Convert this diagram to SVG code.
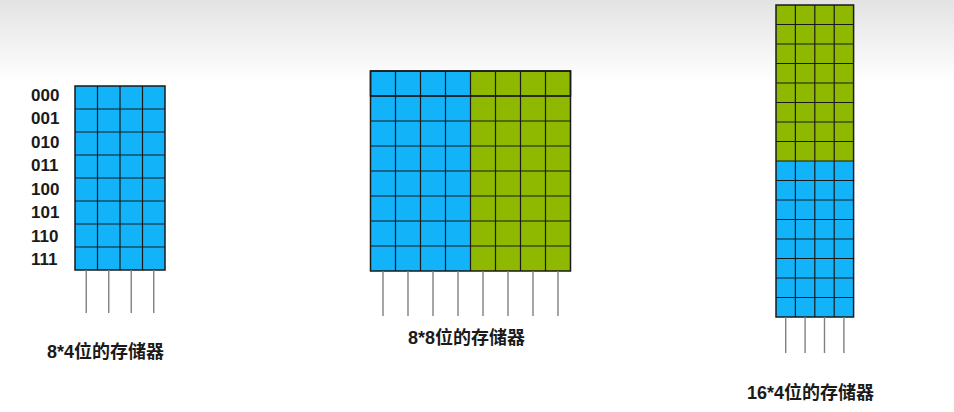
<svg xmlns="http://www.w3.org/2000/svg" width="954" height="412" viewBox="0 0 954 412">
<defs>
<linearGradient id="bg" x1="0" y1="0" x2="0" y2="1">
<stop offset="0" stop-color="#e3e3e3"/>
<stop offset="0.2" stop-color="#ffffff"/>
<stop offset="1" stop-color="#ffffff"/>
</linearGradient>
</defs>
<style>
.blue{fill:#12b3f8}
.green{fill:#8fb800}
.frame{fill:none;stroke:#1a1a1a;stroke-width:1.5}
.grid{fill:none;stroke:#1a1a1a;stroke-width:1.2}
.pin{stroke:#808080;stroke-width:1.4;fill:none}
.addr{font-family:"Liberation Sans","Noto Sans CJK SC",sans-serif;font-weight:bold;font-size:17px;fill:#1a1a1a}
.cap{font-family:"Liberation Sans","Noto Sans CJK SC",sans-serif;font-weight:bold;font-size:18px;fill:#1a1a1a}
</style>
<rect x="0" y="0" width="954" height="412" fill="url(#bg)"/>

<g id="mem8x4">
<rect class="blue" x="75" y="86" width="90" height="184"/>
<path class="grid" d="M97.5 86V270M120 86V270M142.5 86V270M75 109H165M75 132H165M75 155H165M75 178H165M75 201H165M75 224H165M75 247H165"/>
<rect class="frame" x="75" y="86" width="90" height="184"/>
<g class="addr">
<text x="31" y="100.5">000</text>
<text x="31" y="124">001</text>
<text x="31" y="147.5">010</text>
<text x="31" y="171">011</text>
<text x="31" y="194.5">100</text>
<text x="31" y="218">101</text>
<text x="31" y="241.5">110</text>
<text x="31" y="265">111</text>
</g>
<text class="cap" x="47" y="358">8*4位的存储器</text>
</g>

<g id="mem8x8">
<rect class="blue" x="370.5" y="71" width="100" height="200"/>
<rect class="green" x="470.5" y="71" width="100" height="200"/>
<path class="grid" d="M395.5 71V271M420.5 71V271M445.5 71V271M470.5 71V271M495.5 71V271M520.5 71V271M545.5 71V271M370.5 96H570.5M370.5 121H570.5M370.5 146H570.5M370.5 171H570.5M370.5 196H570.5M370.5 221H570.5M370.5 246H570.5"/>
<rect class="frame" x="370.5" y="71" width="200" height="200"/>
<rect class="frame" x="370.5" y="71" width="200" height="25"/>
<text class="cap" x="408" y="344">8*8位的存储器</text>
</g>

<g id="mem16x4">
<rect class="green" x="776" y="5" width="77.6" height="156"/>
<rect class="blue" x="776" y="161" width="77.6" height="156"/>
<path class="grid" d="M795.4 5V317M814.8 5V317M834.2 5V317M776 24.5H853.6M776 44H853.6M776 63.5H853.6M776 83H853.6M776 102.5H853.6M776 122H853.6M776 141.5H853.6M776 161H853.6M776 180.5H853.6M776 200H853.6M776 219.5H853.6M776 239H853.6M776 258.5H853.6M776 278H853.6M776 297.5H853.6"/>
<rect class="frame" x="776" y="5" width="77.6" height="312"/>
<text class="cap" x="747" y="399">16*4位的存储器</text>
</g>

<g id="pins">
<path class="pin" d="M86.25 270V313M108.75 270V313M131.25 270V313M153.75 270V313"/>
<path class="pin" d="M383 271V316M408 271V316M433 271V316M458 271V316M483 271V316M508 271V316M533 271V316M558 271V316"/>
<path class="pin" d="M785.7 317V353M805.1 317V353M824.5 317V353M843.9 317V353"/>
</g>
</svg>
